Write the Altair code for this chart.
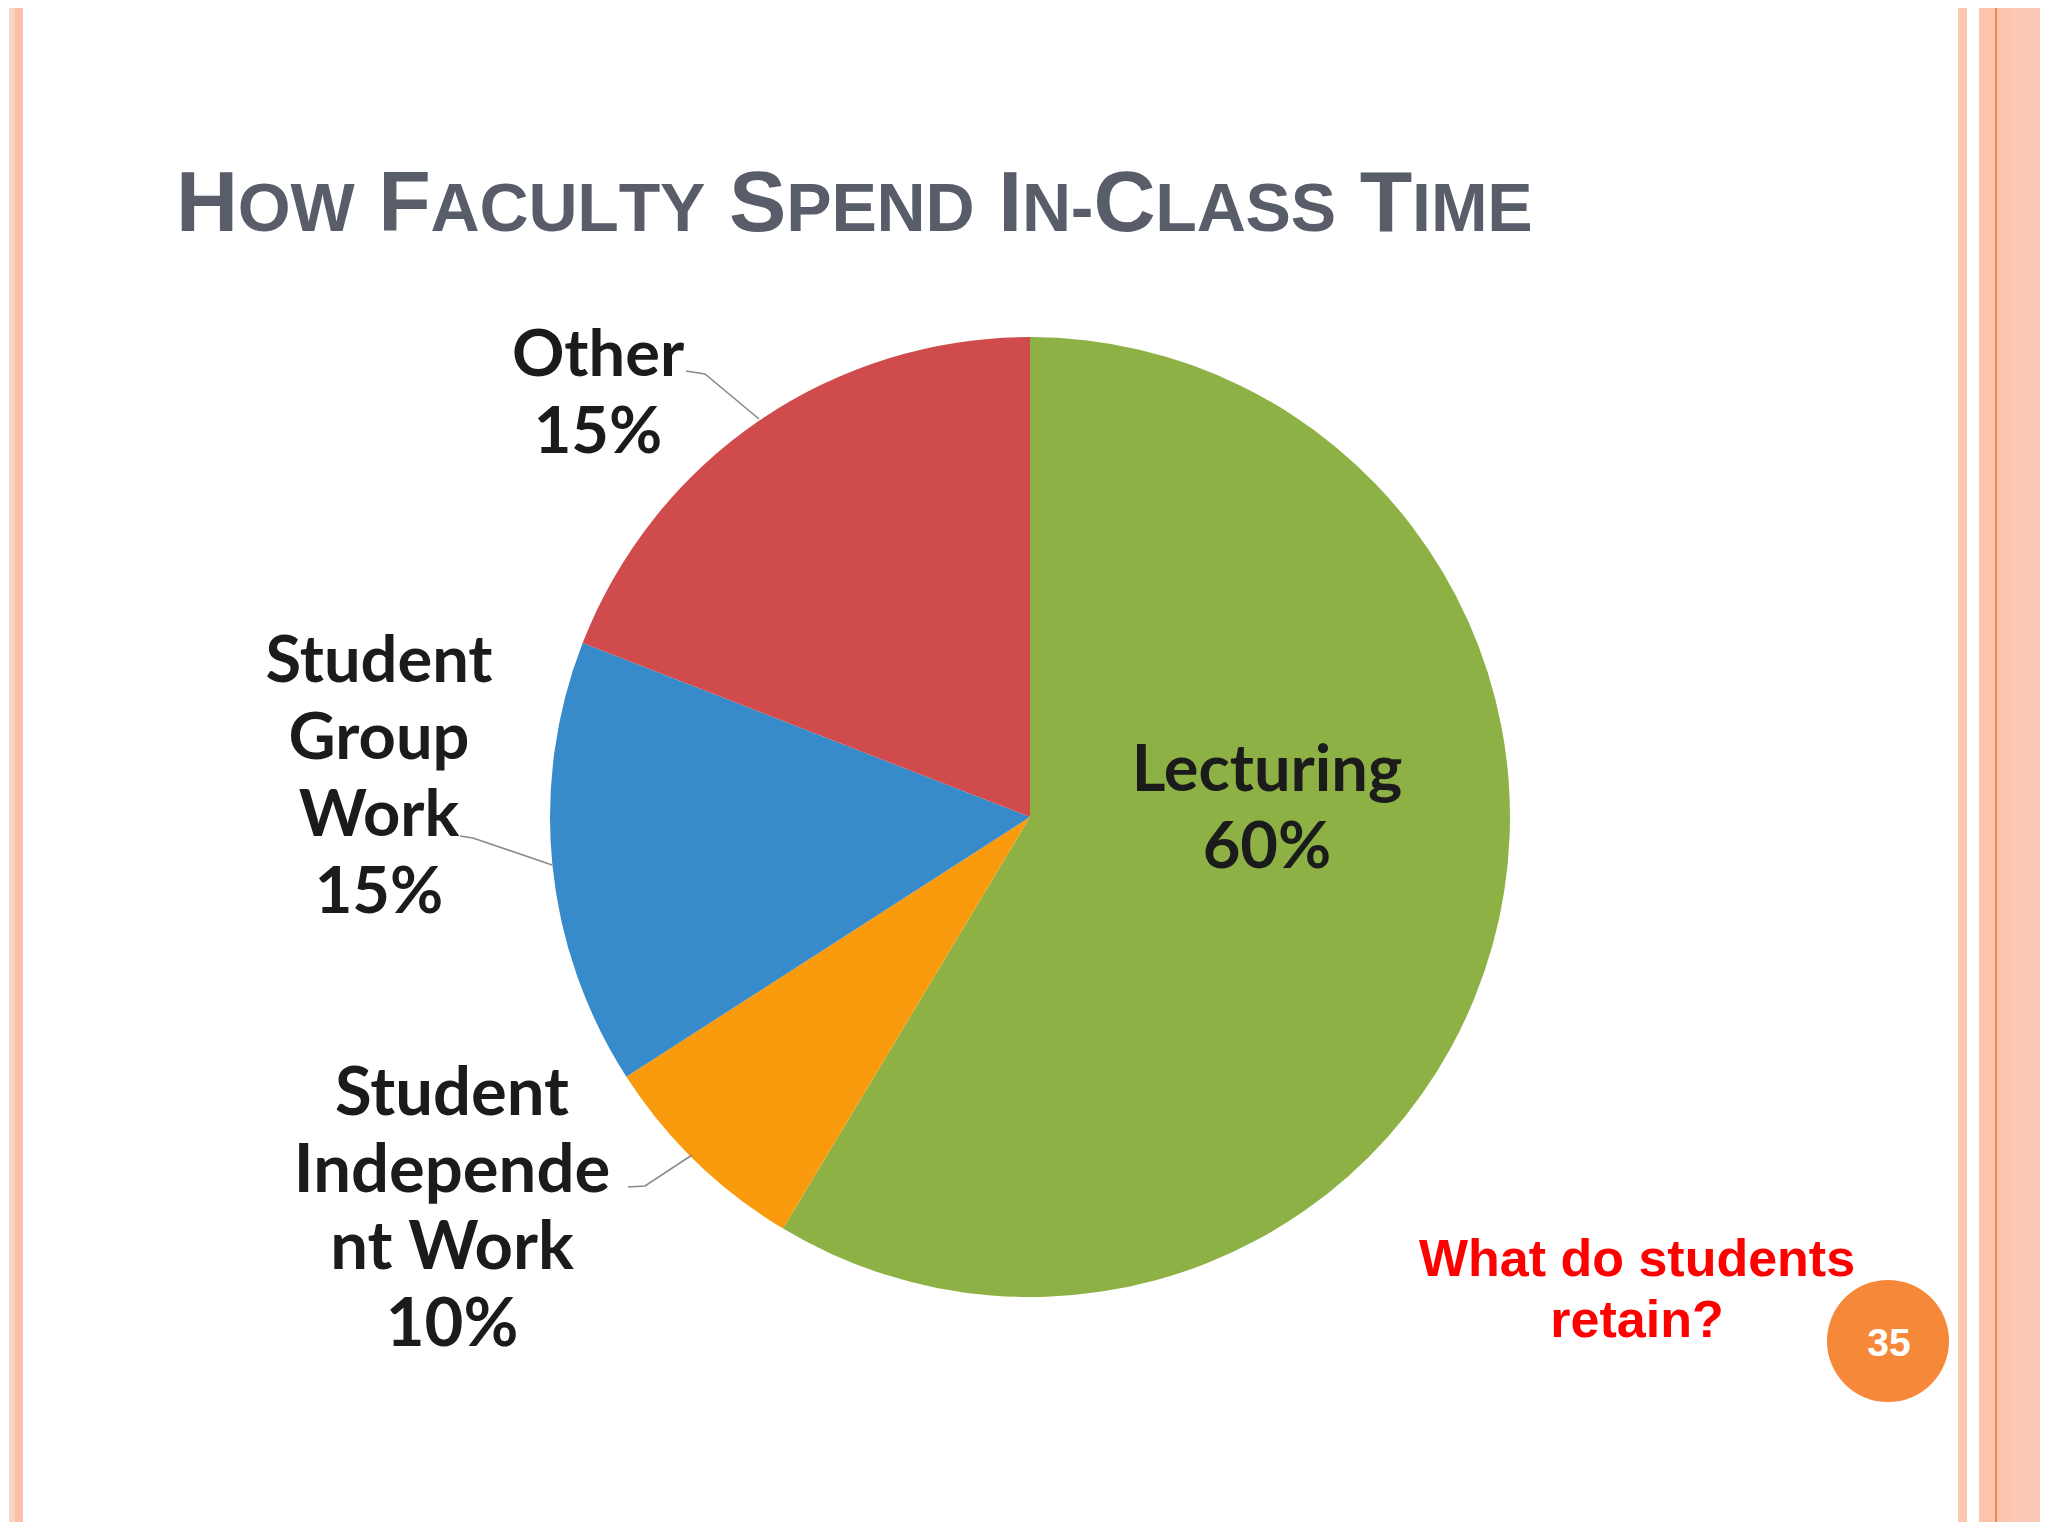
import altair as alt
import pandas as pd

# ---------------- data ----------------
categories = ["Lecturing", "Student Independent Work", "Student Group Work", "Other"]
# slice sizes as drawn in the picture (percent of the circle)
shares = [58.6, 7.3, 15.0, 19.1]
# label text as printed on the slide
label_lines = [
    "Lecturing\n60%",
    "Student\nIndepende\nnt Work\n10%",
    "Student\nGroup\nWork\n15%",
    "Other\n15%",
]
slice_colors = ["#8db144", "#f99b0c", "#378bcb", "#d04b4b"]

title_text = "How Faculty Spend In-Class Time"
question_text = "What do students\nretain?"
slide_number = "35"

# ---------------- layout ----------------
W, H = 2032, 1514
OFF = 8  # page margin: reference pixel -> chart pixel
cx, cy, R = 1030 - OFF, 817 - OFF, 480

label_pos = {  # first-line baseline centre, reference pixels
    "Lecturing": (1267, 791),
    "Student Independent Work": (452, 1115),
    "Student Group Work": (379, 682),
    "Other": (598, 376),
}
label_size = {"Lecturing": 65, "Student Independent Work": 67, "Student Group Work": 65, "Other": 65}
leader_pts = {
    "Other": [(686, 371), (705, 374), (759, 419)],
    "Student Group Work": [(460, 836), (473, 838), (552, 865)],
    "Student Independent Work": [(628, 1187), (645, 1186), (692, 1155)],
}

# ---------------- pie ----------------
pie_df = pd.DataFrame({"cat": categories, "share": shares, "ord": list(range(len(categories)))})
pie = alt.Chart(pie_df).mark_arc(radius=R, stroke=None).encode(
    theta=alt.Theta("share:Q", stack=True),
    order=alt.Order("ord:Q"),
    color=alt.Color("cat:N", scale=alt.Scale(domain=categories, range=slice_colors), legend=None),
    x=alt.value(cx),
    y=alt.value(cy),
)

# ---------------- labels ----------------
lab_df = pd.DataFrame({
    "text": label_lines,
    "x": [label_pos[c][0] - OFF for c in categories],
    "y": [label_pos[c][1] - OFF for c in categories],
    "fs": [label_size[c] for c in categories],
})
labels = alt.Chart(lab_df).mark_text(
    font="Lato", fontWeight="bold", lineBreak="\n", lineHeight=77,
    align="center", baseline="alphabetic", color="#1b1b1b",
).encode(
    x=alt.X("x:Q", scale=None, axis=None),
    y=alt.Y("y:Q", scale=None, axis=None),
    size=alt.Size("fs:Q", scale=None, legend=None),
    text="text:N",
)

rows = []
for g, pts in leader_pts.items():
    for i, (px, py) in enumerate(pts):
        rows.append({"g": g, "i": i, "x": px - OFF, "y": py - OFF})
leaders = alt.Chart(pd.DataFrame(rows)).mark_line(color="#8a8a8a", strokeWidth=1.6).encode(
    x=alt.X("x:Q", scale=None, axis=None),
    y=alt.Y("y:Q", scale=None, axis=None),
    detail="g:N",
    order="i:Q",
)

# ---------------- small-caps title ----------------
adv = {"H": .722, "O": .778, "W": .944, "F": .611, "A": .722, "C": .722, "U": .722,
       "L": .611, "T": .611, "Y": .667, "S": .667, "P": .667, "E": .667, "N": .722,
       "D": .722, "I": .278, "M": .833, "-": .333, " ": .278}
BIG, SMALL = 86, 68
tx, ty = 176 - OFF, 231 - OFF
trows = []
x = tx
for ch in title_text:
    big = ch.isupper() or ch == " "
    fs = BIG if big else SMALL
    c = ch.upper()
    if c != " ":
        trows.append({"t": c, "x": x, "y": ty, "fs": fs})
    x += adv[c] * fs * 0.996
title = alt.Chart(pd.DataFrame(trows)).mark_text(
    font="Liberation Sans", fontWeight="bold", align="left", baseline="alphabetic", color="#585d69",
).encode(
    x=alt.X("x:Q", scale=None, axis=None),
    y=alt.Y("y:Q", scale=None, axis=None),
    size=alt.Size("fs:Q", scale=None, legend=None),
    text="t:N",
)

# ---------------- question + slide number ----------------
one = pd.DataFrame({"a": [0]})
question = alt.Chart(one).mark_text(
    text=question_text, lineBreak="\n", lineHeight=61, font="Liberation Sans", fontWeight="bold",
    fontSize=52, color="#ff0000", align="center", baseline="alphabetic",
).encode(x=alt.value(1637 - OFF), y=alt.value(1276 - OFF))

badge = alt.Chart(one).mark_circle(size=14900, color="#f6883a", opacity=1).encode(
    x=alt.value(1888 - OFF), y=alt.value(1341 - OFF))
badge_txt = alt.Chart(one).mark_text(
    text=slide_number, font="Liberation Sans", fontWeight="bold", fontSize=39,
    color="white", align="center", baseline="alphabetic",
).encode(x=alt.value(1889 - OFF), y=alt.value(1356 - OFF))

# ---------------- slide border stripes ----------------
stripes = [
    (9, 15, "#f8d4c8"), (15, 23, "#fcc0a7"),
    (1958, 1967, "#fcc6b1"), (1979, 1995, "#fcc4ab"), (1995, 1997, "#ef8a4f"),
    (1997, 2012, "#fbc5ae"), (2012, 2048, "#fac9b6"),
]
stripe_layers = [
    alt.Chart(one).mark_rect(color=col).encode(
        x=alt.value(a - OFF), x2=alt.value(min(b - OFF, W)), y=alt.value(0), y2=alt.value(H))
    for a, b, col in stripes
]

chart = alt.layer(
    *stripe_layers, pie, leaders, labels, title, question, badge, badge_txt
).properties(
    width=W, height=H, autosize=alt.AutoSizeParams(type="none"), padding=0, background="white",
).configure_view(stroke=None)

chart.save("out.html", embed_options={"renderer": "svg", "actions": False})
